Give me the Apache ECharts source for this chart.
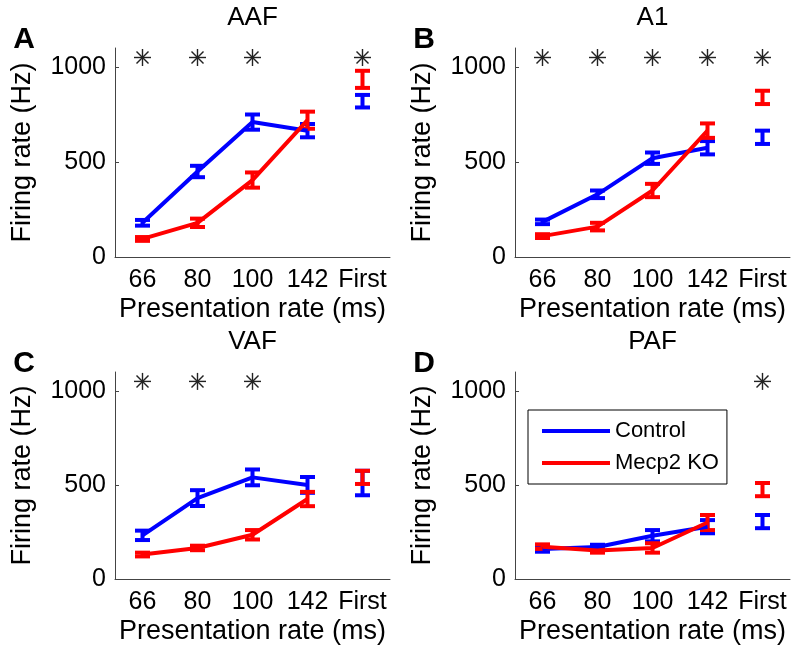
<!DOCTYPE html>
<html><head><meta charset="utf-8">
<script src="https://cdn.jsdelivr.net/npm/echarts@6/dist/echarts.min.js"></script>
<style>html,body{margin:0;padding:0;background:#fff}#c{width:800px;height:655px}</style>
</head><body><div id="c"></div>
<script>
// ---- data ----
const categories = ['66', '80', '100', '142', 'First'];
const yTicks = [0, 500, 1000];
const panelTitles = ['AAF', 'A1', 'VAF', 'PAF'];
const panelLetters = ['A', 'B', 'C', 'D'];
const seriesNames = ['Control', 'Mecp2 KO'];

const aafCtrl    = [180, 450, 710, 665, 820];
const aafCtrlErr = [15, 30, 40, 35, 33];
const aafKO      = [95, 180, 405, 720, 935];
const aafKOErr   = [10, 22, 40, 45, 45];

const a1Ctrl     = [185, 330, 520, 575, 630];
const a1CtrlErr  = [12, 20, 30, 35, 35];
const a1KO       = [110, 160, 350, 665, 840];
const a1KOErr    = [10, 20, 35, 38, 35];

const vafCtrl    = [232, 430, 540, 500, 510];
const vafCtrlErr = [25, 42, 42, 42, 65];
const vafKO      = [130, 165, 235, 425, 540];
const vafKOErr   = [10, 12, 25, 38, 35];

const pafCtrl    = [160, 170, 230, 278, 305];
const pafCtrlErr = [15, 12, 30, 35, 35];
const pafKO      = [172, 152, 165, 300, 475];
const pafKOErr   = [12, 12, 25, 40, 35];

const starLevel = 1050;
const starsAAF = ['66', '80', '100', 'First'];
const starsA1  = ['66', '80', '100', '142', 'First'];
const starsVAF = ['66', '80', '100'];
const starsPAF = ['First'];

// ---- layout ----
const panels = [
  {ctrl: aafCtrl, ctrlErr: aafCtrlErr, ko: aafKO, koErr: aafKOErr, stars: starsAAF},
  {ctrl: a1Ctrl, ctrlErr: a1CtrlErr, ko: a1KO, koErr: a1KOErr, stars: starsA1},
  {ctrl: vafCtrl, ctrlErr: vafCtrlErr, ko: vafKO, koErr: vafKOErr, stars: starsVAF},
  {ctrl: pafCtrl, ctrlErr: pafCtrlErr, ko: pafKO, koErr: pafKOErr, stars: starsPAF}
];
const grids = [
  {left: 115, top: 48, width: 275, height: 209},
  {left: 515, top: 48, width: 275, height: 209},
  {left: 115, top: 372, width: 275, height: 207},
  {left: 515, top: 372, width: 275, height: 207}
];
const BLUE = '#0000ff', RED = '#ff0000';
const FONT = 'Liberation Sans, Arial, sans-serif';

function errRender(color) {
  return function (params, api) {
    const x = api.value(0);
    const lo = api.coord([x, api.value(1)]);
    const hi = api.coord([x, api.value(2)]);
    const hw = 7.5;
    const st = {stroke: color, lineWidth: 4, fill: null};
    return {type: 'group', children: [
      {type: 'line', shape: {x1: lo[0], y1: lo[1], x2: hi[0], y2: hi[1]}, style: st},
      {type: 'line', shape: {x1: lo[0] - hw, y1: lo[1], x2: lo[0] + hw, y2: lo[1]}, style: st},
      {type: 'line', shape: {x1: hi[0] - hw, y1: hi[1], x2: hi[0] + hw, y2: hi[1]}, style: st}
    ]};
  };
}
function starRender(params, api) {
  const c = api.coord([api.value(0), api.value(1)]);
  const r = 8.5, d = r * Math.SQRT1_2;
  const st = {stroke: '#222', lineWidth: 1.4, fill: null};
  return {type: 'group', children: [
    {type: 'line', shape: {x1: c[0], y1: c[1] - r, x2: c[0], y2: c[1] + r}, style: st},
    {type: 'line', shape: {x1: c[0] - r, y1: c[1], x2: c[0] + r, y2: c[1]}, style: st},
    {type: 'line', shape: {x1: c[0] - d, y1: c[1] - d, x2: c[0] + d, y2: c[1] + d}, style: st},
    {type: 'line', shape: {x1: c[0] - d, y1: c[1] + d, x2: c[0] + d, y2: c[1] - d}, style: st}
  ]};
}
function errData(mean, err) {
  return mean.map((m, i) => [i, m - err[i], m + err[i]]);
}

const option = {
  animation: false,
  backgroundColor: '#fff',
  textStyle: {fontFamily: FONT},
  title: [],
  grid: grids,
  xAxis: [],
  yAxis: [],
  series: [],
  legend: {
    data: seriesNames, orient: 'vertical', left: 528, top: 410,
    padding: [10, 8, 10, 14], itemWidth: 68, itemHeight: 4, icon: 'rect', itemGap: 10,
    borderColor: '#000', borderWidth: 1, backgroundColor: '#fff', selectedMode: false,
    textStyle: {fontSize: 22, color: '#000', fontFamily: FONT}
  }
};

panels.forEach((p, i) => {
  const g = grids[i];
  option.title.push({
    text: panelTitles[i], left: g.left + g.width / 2, top: g.top - 43, textAlign: 'center', padding: 0,
    textStyle: {fontSize: 26, fontWeight: 'normal', color: '#000', fontFamily: FONT}
  });
  option.title.push({
    text: panelLetters[i], left: g.left - 91, top: g.top - 23, textAlign: 'center', padding: 0,
    textStyle: {fontSize: 30, fontWeight: 'bold', color: '#000', fontFamily: FONT}
  });
  option.xAxis.push({
    gridIndex: i, type: 'category', data: categories, boundaryGap: true,
    axisLine: {lineStyle: {color: '#444', width: 1}},
    axisTick: {inside: true, alignWithLabel: true, length: 4, lineStyle: {color: '#444'}},
    axisLabel: {color: '#000', fontSize: 25, margin: 11, interval: 0, fontFamily: FONT},
    name: 'Presentation rate (ms)', nameLocation: 'middle', nameGap: 39,
    nameTextStyle: {fontSize: 27, color: '#000', fontFamily: FONT},
    splitLine: {show: false}
  });
  option.yAxis.push({
    gridIndex: i, type: 'value', min: 0, max: 1100,
    axisLine: {show: true, lineStyle: {color: '#444', width: 1}},
    axisTick: {show: true, inside: true, length: 4, customValues: yTicks, lineStyle: {color: '#444'}},
    axisLabel: {color: '#000', fontSize: 25, margin: 9, customValues: yTicks, fontFamily: FONT,
      formatter: v => String(v)},
    splitLine: {show: false},
    name: 'Firing rate (Hz)', nameLocation: 'middle', nameGap: 79,
    nameTextStyle: {fontSize: 27, color: '#000', fontFamily: FONT}
  });
  [[p.ctrl, p.ctrlErr, BLUE, seriesNames[0]], [p.ko, p.koErr, RED, seriesNames[1]]].forEach(([mean, err, col, nm]) => {
    option.series.push({
      type: 'line', name: nm, xAxisIndex: i, yAxisIndex: i,
      data: mean.slice(0, 4), symbol: 'none',
      lineStyle: {color: col, width: 4}, itemStyle: {color: col}
    });
    option.series.push({
      type: 'custom', name: nm + ' error', xAxisIndex: i, yAxisIndex: i,
      data: errData(mean, err), renderItem: errRender(col), itemStyle: {color: col}
    });
  });
  option.series.push({
    type: 'custom', name: 'significance', xAxisIndex: i, yAxisIndex: i,
    data: p.stars.map(c => [categories.indexOf(c), starLevel]), renderItem: starRender
  });
});

const chart = echarts.init(document.getElementById('c'), null, {renderer: 'canvas'});
chart.setOption(option);
</script>
</body></html>
